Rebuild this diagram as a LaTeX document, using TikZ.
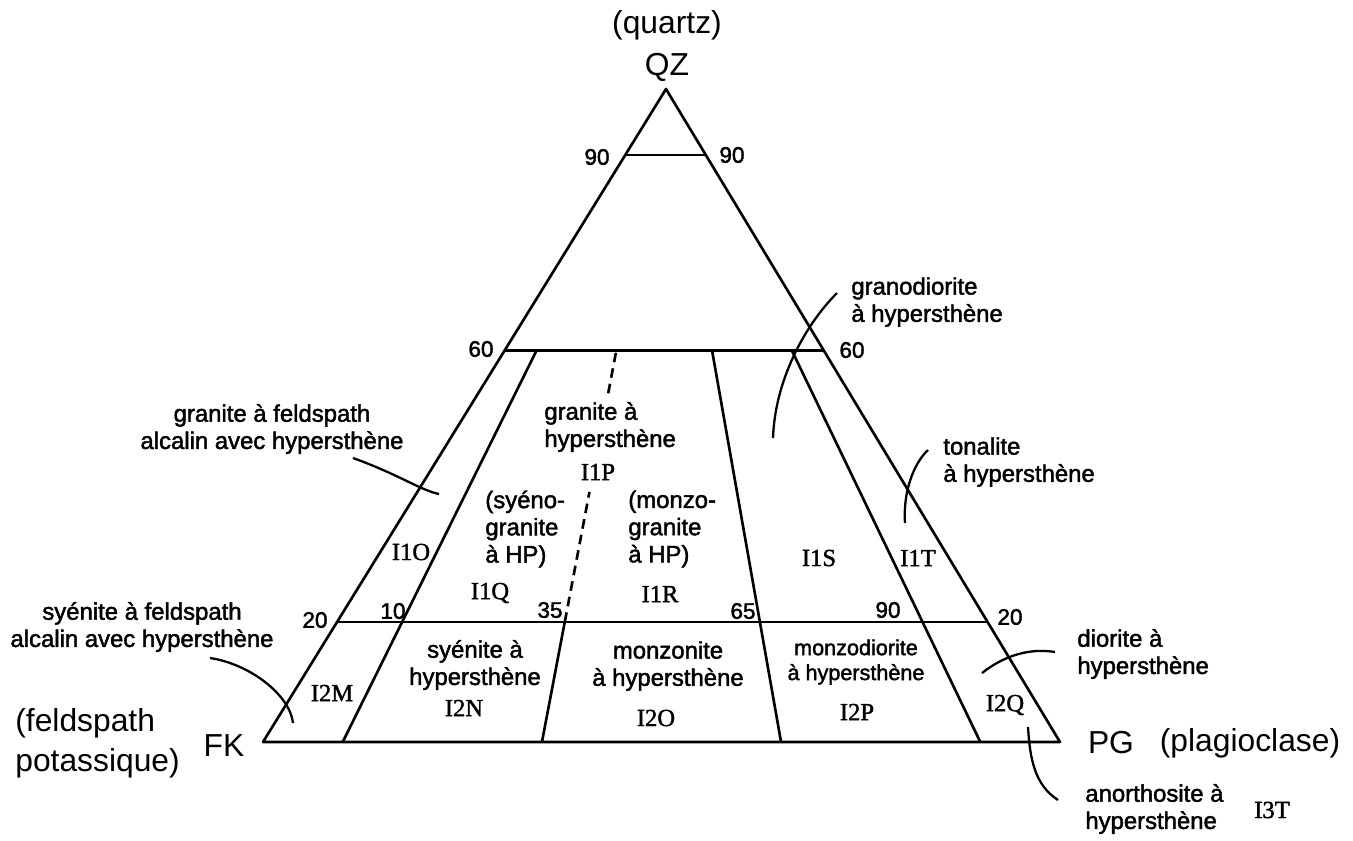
\documentclass[tikz,border=0pt]{standalone}
\usepackage{fontspec}
\setmainfont{Liberation Sans}
\newfontfamily\heavyfont{Liberation Sans}[FakeBold=1.8]
\newfontfamily\codefont{Liberation Serif}[FakeBold=1.5]
\usetikzlibrary{calc}

\begin{document}
\begin{tikzpicture}[x=0.02cm,y=-0.02cm,
    edge/.style={line width=1.5pt,line join=round},
    leader/.style={line width=1.3pt},
    lbl/.style={inner sep=0pt,align=center,
                font=\heavyfont\fontsize{13.6}{15.5}\selectfont},
    lblleft/.style={lbl,align=left,anchor=west},
    bigname/.style={inner sep=0pt,font=\fontsize{18.1}{22.7}\selectfont},
    code/.style={inner sep=0pt,font=\codefont\fontsize{14}{15}\selectfont},
    tick/.style={inner sep=0pt,font=\heavyfont\fontsize{12.8}{14}\selectfont}
  ]
    \useasboundingbox (0,0) rectangle (1353,840);

    % sommets du triangle
    \coordinate (FK) at (263,742);
    \coordinate (PG) at (1060,742);
    \coordinate (QZ) at (666,89);

    \draw[edge] (FK) -- (PG) -- (QZ) -- cycle;

    % limites en quartz
    \foreach \f/\n in {0.899/90,0.6/60,0.184/20}{
      \draw[edge] ($(FK)!\f!(QZ)$) -- ($(PG)!\f!(QZ)$);
    }

    % limites plagioclase / feldspath total
    \foreach \r/\n in {0.10/a,0.65/c,0.90/d}{
      \coordinate (b\n) at ($(FK)!\r!(PG)$);
      \draw[edge] (b\n) -- ($(b\n)!0.6!(QZ)$);
    }
    \coordinate (bb) at ($(FK)!0.35!(PG)$);
    \draw[edge] (bb) -- ($(bb)!0.184!(QZ)$);
    \draw[edge,dash pattern=on 5.5pt off 3.5pt]
      ($(bb)!0.184!(QZ)$) -- ($(bb)!0.383!(QZ)$);
    \draw[edge,dash pattern=on 5.5pt off 3.5pt]
      ($(bb)!0.534!(QZ)$) -- ($(bb)!0.6!(QZ)$);

    % poles
    \node[bigname] (quartz) at (667,25) {(quartz)};
    \node[bigname] (qzname) at (667,67) {QZ};
    \node[bigname,anchor=west,align=left] (fkfull) at (15,743)
      {(feldspath\\potassique)};
    \node[bigname] (fkname) at (224,746) {FK};
    \node[bigname] (pgname) at (1111,743) {PG};
    \node[bigname] (pgfull) at (1250,743) {(plagioclase)};

    % graduations
    \foreach \t/\x/\y/\nm in {90/597/157/n90l,90/732/155/n90r,
        60/481/349/n60l,60/852/350/n60r,20/315/620/n20l,20/1010/617/n20r,
        10/393/611/n10,35/550/610/n35,65/743/611/n65,90/888/610/n90}{
      \node[tick] (\nm) at (\x,\y) {\t};
    }

    % codes des champs
    \foreach \c/\x/\y in {I1O/411/552,I1P/598/472,I1Q/490/593,I1R/660/594,
        I1S/819/558,I1T/918/558,I2M/332/693,I2N/464/708,I2O/656/718,
        I2P/857/712,I2Q/1005/705,I3T/1272/810}{
      \node[code] (\c) at (\x,\y) {\c};
    }

    % noms dans le triangle
    \node[lblleft] (granhp) at (544,427) {granite à\\hypersthène};
    \node[lblleft] (syenog) at (485,529) {(syéno-\\granite\\à HP)};
    \node[lblleft] (monzog) at (628,529) {(monzo-\\granite\\à HP)};
    \node[lbl] (syenhp) at (475,665) {syénite à\\hypersthène};
    \node[lbl] (monzhp) at (668,666) {monzonite\\à hypersthène};
    \node[lbl,font=\heavyfont\fontsize{12.3}{14.2}\selectfont] (mzdhp)
      at (856,662) {monzodiorite\\à hypersthène};

    % noms hors du triangle
    \node[lbl] (gfahp) at (272,429) {granite à feldspath\\alcalin avec hypersthène};
    \node[lbl] (sfahp) at (142,627) {syénite à feldspath\\alcalin avec hypersthène};
    \node[lblleft] (grdhp) at (851,302) {granodiorite\\à hypersthène};
    \node[lblleft] (tonhp) at (943,462) {tonalite\\à hypersthène};
    \node[lblleft] (diohp) at (1077,654) {diorite à\\hypersthène};
    \node[lblleft] (anohp) at (1085,809) {anorthosite à\\hypersthène};

    % renvois
    \coordinate (gfa1) at (353,458);  \coordinate (gfa2) at (439,494);
    \coordinate (sfa1) at (210,658);  \coordinate (sfa2) at (293,723);
    \coordinate (grd1) at (837,293);  \coordinate (grd2) at (773,438);
    \coordinate (ton1) at (928,450);  \coordinate (ton2) at (905,523);
    \coordinate (dio1) at (1055,652); \coordinate (dio2) at (982,673);
    \coordinate (ano1) at (1028,727); \coordinate (ano2) at (1058,800);

    \draw[leader] (gfa1) .. controls (400,475) and (420,490) .. (gfa2);
    \draw[leader] (sfa1) .. controls (250,664) and (290,695) .. (sfa2);
    \draw[leader] (grd1) .. controls (805,325) and (775,380) .. (grd2);
    \draw[leader] (ton1) .. controls (912,465) and (903,495) .. (ton2);
    \draw[leader] (dio1) .. controls (1030,648) and (1005,655) .. (dio2);
    \draw[leader] (ano1) .. controls (1030,760) and (1035,785) .. (ano2);
\end{tikzpicture}
\end{document}
